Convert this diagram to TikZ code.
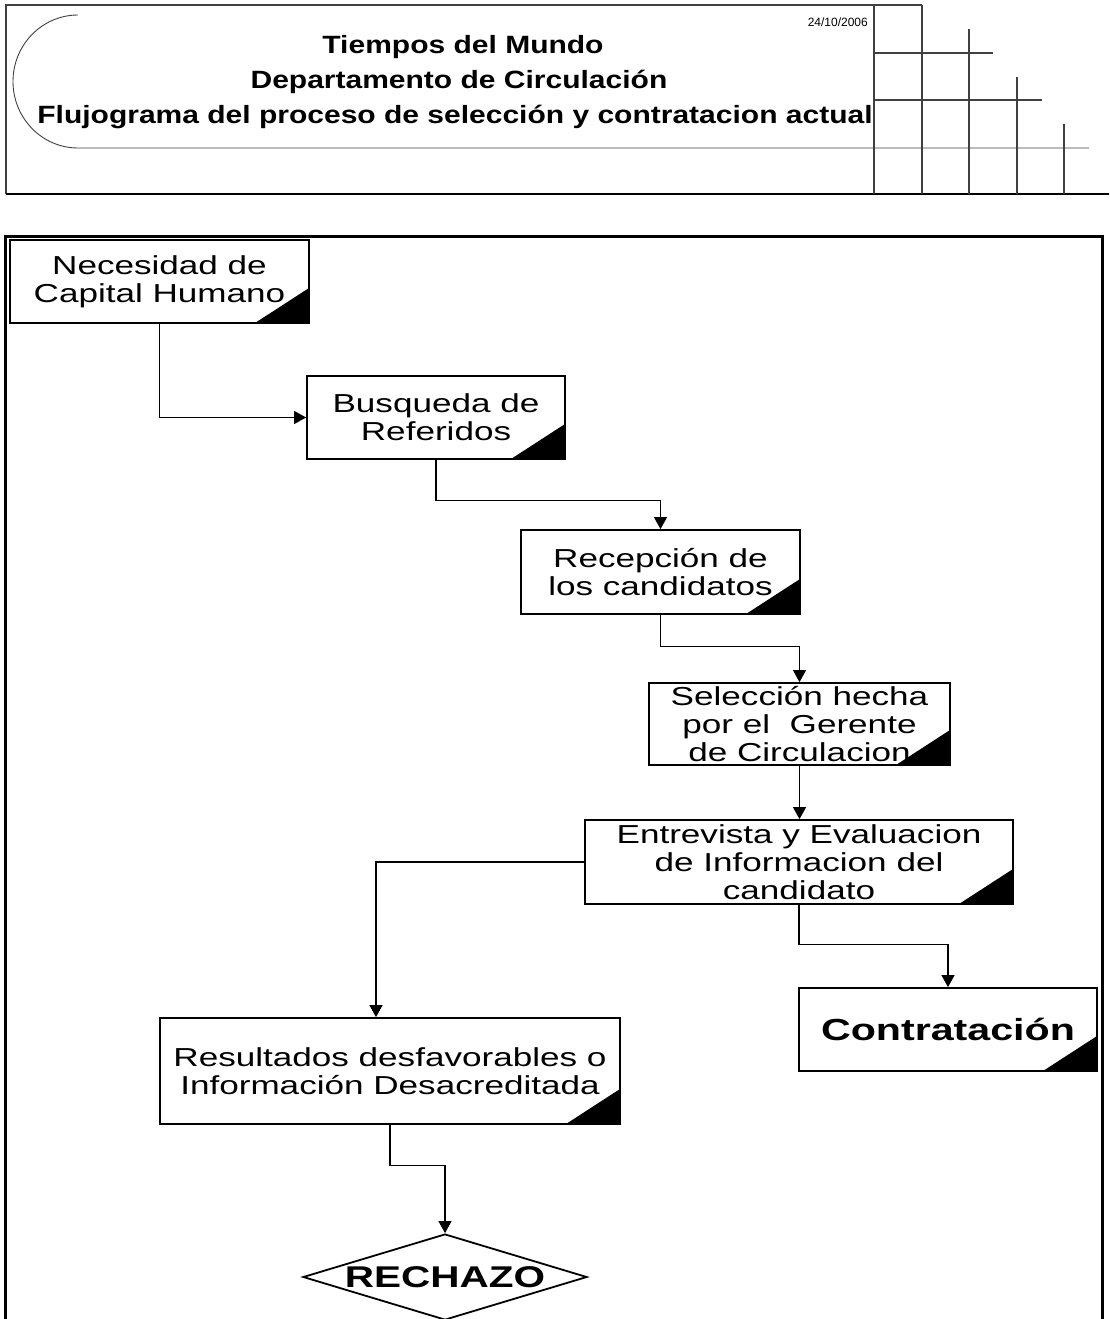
\documentclass[tikz,border=0pt]{standalone}
\usepackage{fontspec}
\setmainfont{Liberation Sans}
\newfontfamily\widefont{Liberation Sans}[FakeStretch=1.35]
\newfontfamily\heavyfont{Liberation Sans Bold}[FakeStretch=1.35]
\newfontfamily\titlefont{Liberation Sans Bold}[FakeStretch=1.2]
\usetikzlibrary{arrows.meta,shapes.geometric}

\begin{document}
\begin{tikzpicture}[x=1pt,y=-1pt,
  flowbox/.style={draw, line width=1.8pt, rectangle, inner sep=0pt, align=center,
    font=\widefont\fontsize{26}{28}\selectfont,
    path picture={\fill (path picture bounding box.south east) -- ++(-54pt,0pt) -- ++(54pt,35pt) -- cycle;}},
  link/.style={line width=1.1pt, -{Triangle[length=12pt,width=13pt]}},
  hdr/.style={line width=1.2pt, black!75},
  title/.style={font=\titlefont\fontsize{25}{28}\selectfont, anchor=base, inner sep=0pt},
]
\useasboundingbox (0,0) rectangle (1109,1319);
\clip (0,0) rectangle (1109,1319);

% ---- title block ----
\draw[hdr] (6,194) -- (6,5) -- (922,5);
\draw[line width=1.4pt] (6,194) -- (1109,194);
\draw[hdr, line width=0.9pt] (78,15) arc[start angle=90, end angle=270, x radius=65pt, y radius=66.5pt] -- (1089,148);
\draw[hdr] (874,5) -- (874,194);
\draw[hdr] (922,5) -- (922,194);
\draw[hdr] (969,29) -- (969,194);
\draw[hdr] (1017,77) -- (1017,194);
\draw[hdr] (1064,124) -- (1064,194);
\draw[hdr] (874,53) -- (993,53);
\draw[hdr] (874,100) -- (1042,100);

\node[title] (t1) at (463,54) {Tiempos del Mundo};
\node[title] (t2) at (459,89) {Departamento de Circulación};
\node[title] (t3) at (455,124) {Flujograma del proceso de selección y contratacion actual};
\node[font=\fontsize{12}{13}\selectfont, anchor=base east, inner sep=0pt] (date) at (868,27) {24/10/2006};

% ---- outer frame ----
\draw[line width=3pt] (5,1330) -- (5,236) -- (1102,236) -- (1102,1330);

% ---- process steps ----
\node[flowbox, minimum width=299pt, minimum height=83pt] (nec) at (159.5,281.5) {Necesidad de\\Capital Humano};
\node[flowbox, minimum width=258pt, minimum height=83pt] (bus) at (436,417.5) {Busqueda de\\Referidos};
\node[flowbox, minimum width=279pt, minimum height=84pt] (rec) at (660.5,572) {Recepción de\\los candidatos};
\node[flowbox, minimum width=301pt, minimum height=82pt] (sel) at (799.5,724) {Selección hecha\\por el~ Gerente\\de Circulacion};
\node[flowbox, minimum width=428pt, minimum height=84pt] (ent) at (799,862) {Entrevista y Evaluacion\\de Informacion del\\candidato};
\node[flowbox, minimum width=298pt, minimum height=83pt, font=\heavyfont\fontsize{30.5}{32}\selectfont] (con) at (948,1029.5) {Contratación};
\node[flowbox, minimum width=460pt, minimum height=106pt] (res) at (390,1071) {Resultados desfavorables o\\Información Desacreditada};
\node[diamond, draw, line width=1.8pt, minimum width=284pt, minimum height=86pt, inner sep=0pt] (rech) at (445,1277) {};
\node[font=\heavyfont\fontsize{30}{32}\selectfont, inner sep=0pt] (rechtxt) at (445,1277) {RECHAZO};

% ---- connectors ----
\draw[link] (nec.south) |- (bus.west);
\draw[link] (bus.south) -- ++(0,41) -| (rec.north);
\draw[link] (rec.south) -- ++(0,32) -| (sel.north);
\draw[link] (sel.south) -- (sel.south |- ent.north);
\draw[link] (ent.south) -- ++(0,40) -| (con.north);
\draw[link] (ent.west) -| ([xshift=-14pt]res.north);
\draw[link] (res.south) -- ++(0,41) -| (rech.north);
\end{tikzpicture}
\end{document}
